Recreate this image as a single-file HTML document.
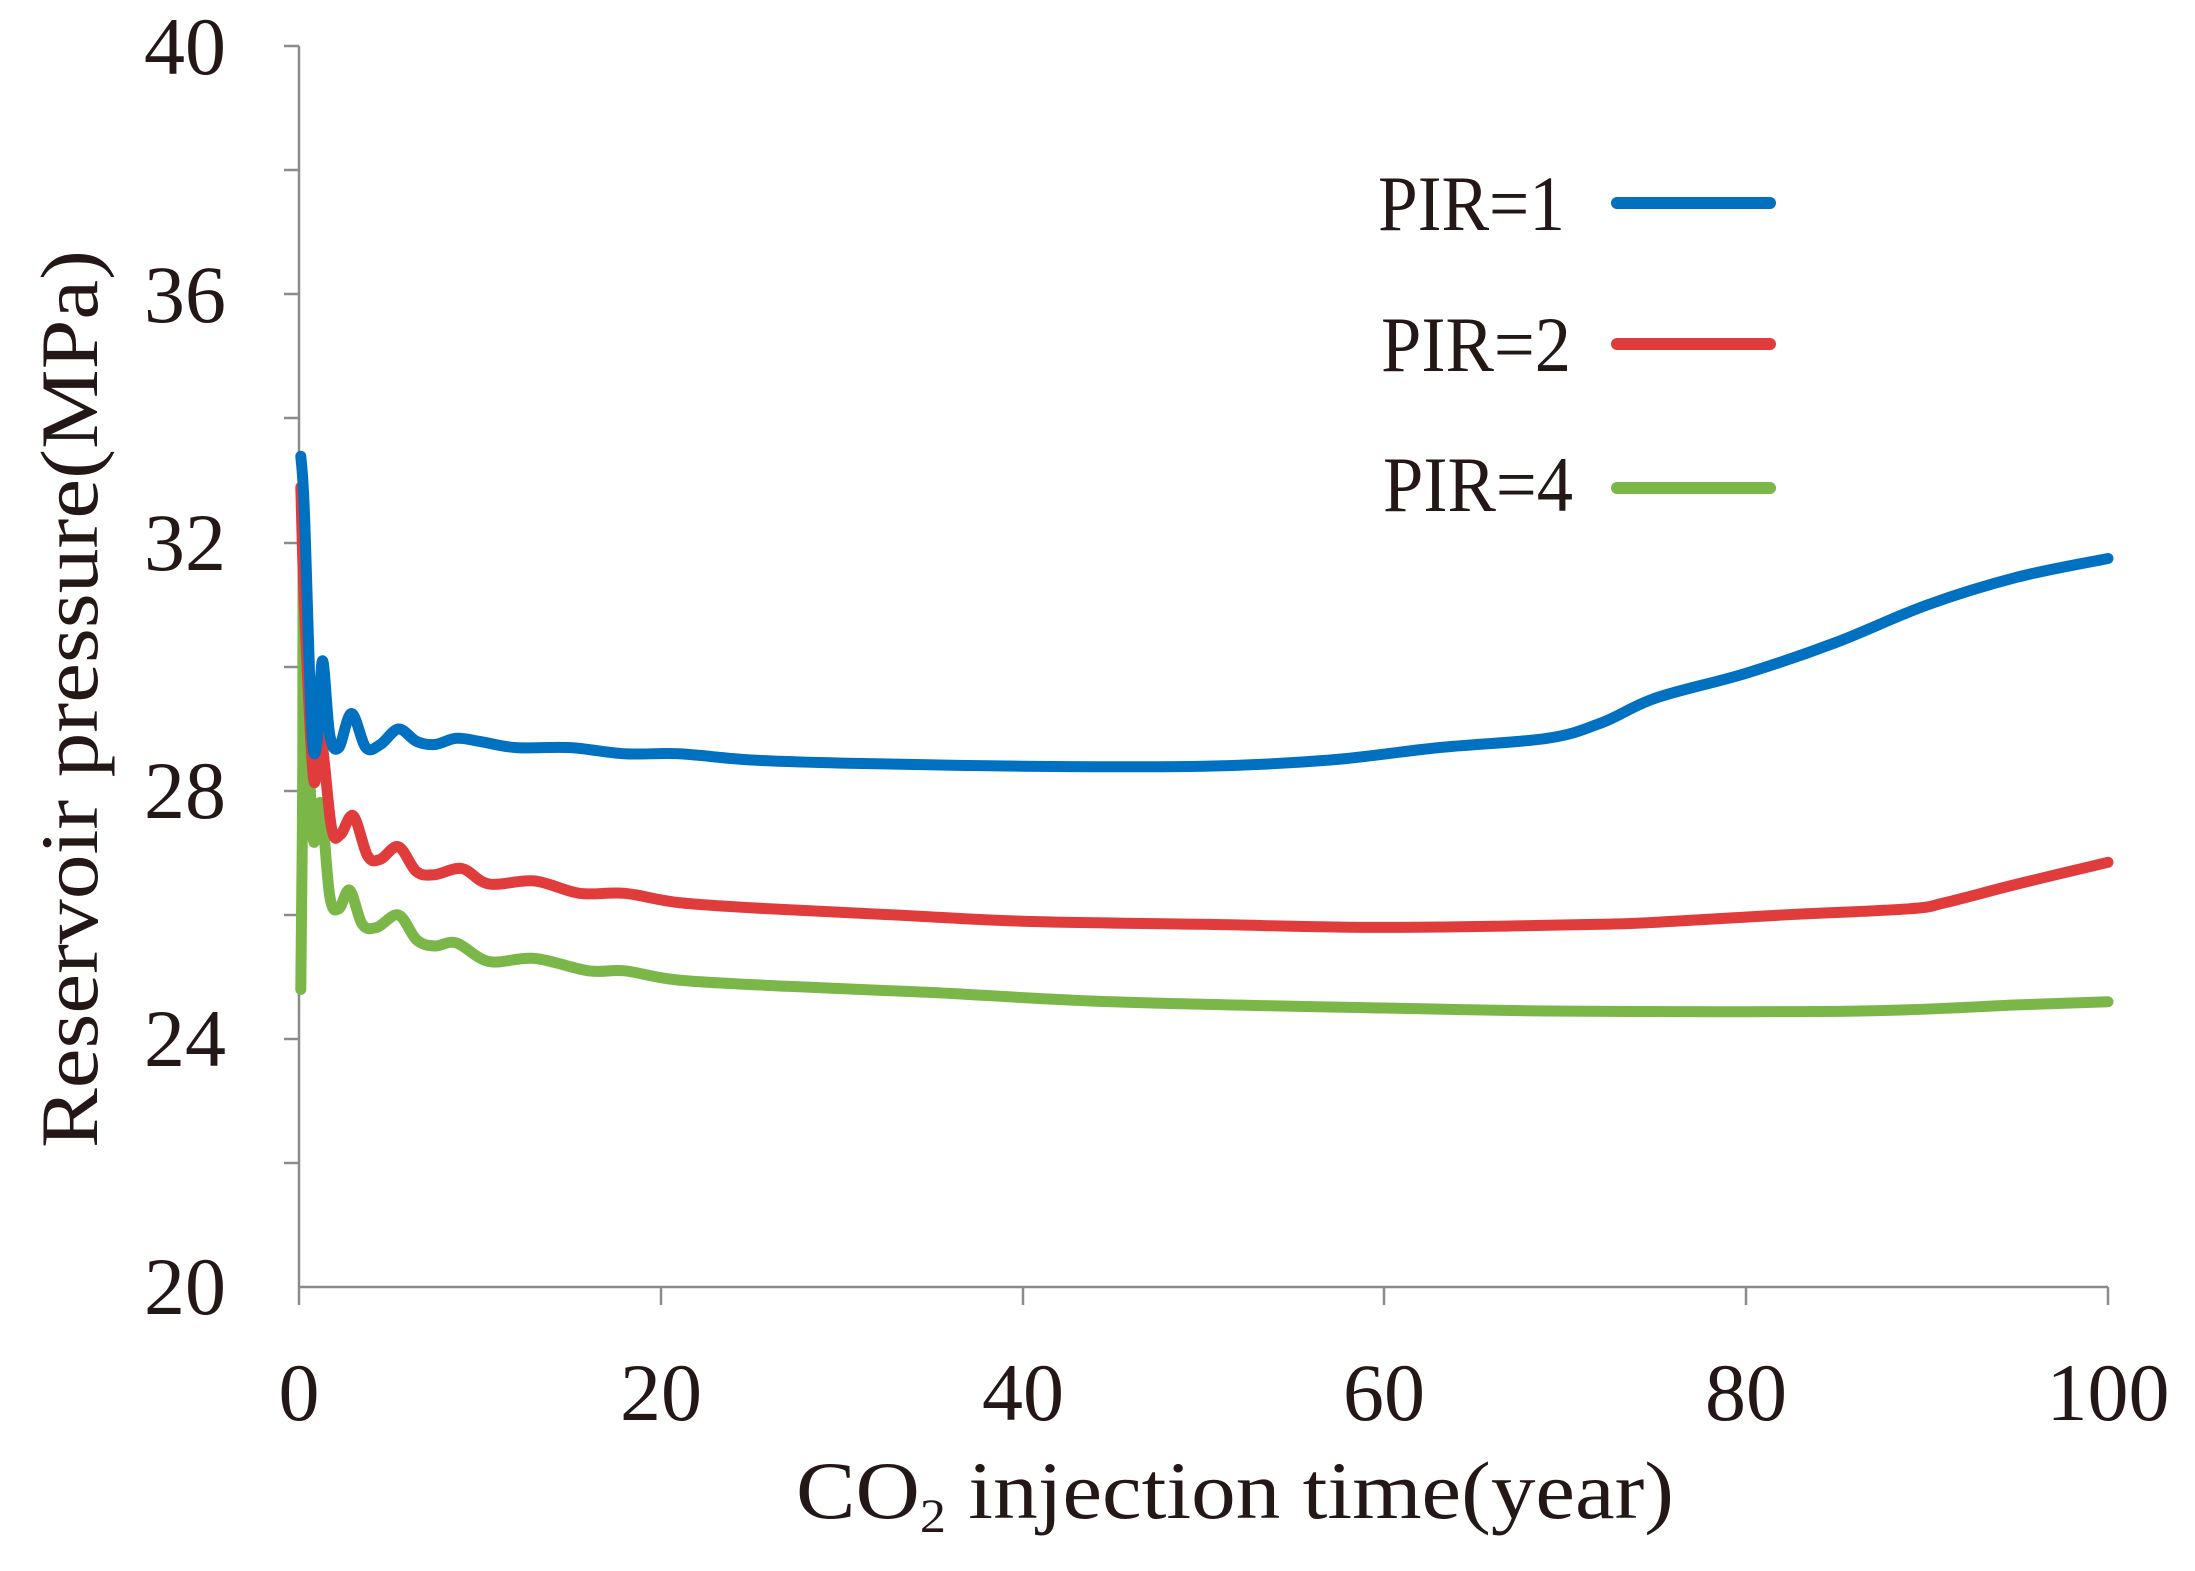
<!DOCTYPE html>
<html><head><meta charset="utf-8"><style>
html,body{margin:0;padding:0;background:#fff;}
svg{display:block;}
text{font-family:"Liberation Serif",serif;fill:#231815;}
</style></head><body>
<svg id="s" width="2195" height="1571" viewBox="0 0 2195 1571" xmlns="http://www.w3.org/2000/svg">
<g stroke="#8c8c8c" stroke-width="2.5" fill="none">
<line x1="299" y1="46" x2="299" y2="1287"/>
<line x1="299" y1="1287" x2="2108" y2="1287"/>
<line x1="284" y1="46" x2="299" y2="46"/>
<line x1="284" y1="170" x2="299" y2="170"/>
<line x1="284" y1="294" x2="299" y2="294"/>
<line x1="284" y1="418" x2="299" y2="418"/>
<line x1="284" y1="543" x2="299" y2="543"/>
<line x1="284" y1="667" x2="299" y2="667"/>
<line x1="284" y1="791" x2="299" y2="791"/>
<line x1="284" y1="915" x2="299" y2="915"/>
<line x1="284" y1="1039" x2="299" y2="1039"/>
<line x1="284" y1="1163" x2="299" y2="1163"/>
<line x1="299" y1="1287" x2="299" y2="1305"/>
<line x1="661" y1="1287" x2="661" y2="1305"/>
<line x1="1023" y1="1287" x2="1023" y2="1305"/>
<line x1="1384" y1="1287" x2="1384" y2="1305"/>
<line x1="1746" y1="1287" x2="1746" y2="1305"/>
<line x1="2108" y1="1287" x2="2108" y2="1305"/>
</g>
<g font-size="82" text-anchor="end">
<text x="226" y="74">40</text>
<text x="226" y="322">36</text>
<text x="226" y="570">32</text>
<text x="226" y="818">28</text>
<text x="226" y="1066">24</text>
<text x="226" y="1314">20</text>
</g>
<g font-size="82" text-anchor="middle">
<text x="299" y="1420">0</text>
<text x="661" y="1420">20</text>
<text x="1023" y="1420">40</text>
<text x="1384" y="1420">60</text>
<text x="1746" y="1420">80</text>
<text x="2108" y="1420">100</text>
</g>
<text transform="translate(97,1148) rotate(-90)" font-size="82" textLength="898" lengthAdjust="spacingAndGlyphs">Reservoir pressure(MPa)</text>
<text x="796" y="1518" font-size="82" textLength="878" lengthAdjust="spacingAndGlyphs">CO<tspan font-size="48" dy="14">2</tspan><tspan dy="-14"> injection time(year)</tspan></text>
<g font-size="78">
<text x="1378" y="230" textLength="187" lengthAdjust="spacingAndGlyphs">PIR=1</text>
<text x="1381" y="371" textLength="190" lengthAdjust="spacingAndGlyphs">PIR=2</text>
<text x="1383" y="511" textLength="190" lengthAdjust="spacingAndGlyphs">PIR=4</text>
</g>
<g stroke-width="12" stroke-linecap="round" fill="none">
<line x1="1617" y1="203" x2="1770" y2="203" stroke="#0070c0"/>
<line x1="1617" y1="344" x2="1770" y2="344" stroke="#e03c3c"/>
<line x1="1617" y1="488" x2="1770" y2="488" stroke="#7ab648"/>
</g>
<g id="c" stroke-width="11" stroke-linejoin="round" stroke-linecap="round" fill="none"></g>
</svg>
<script>
var B=[[0.1,33.4],[0.3,32.5],[0.7,29],[1,28.8],[1.3,30.1],[1.7,28.9],[2.2,28.7],[2.9,29.25],[3.7,28.7],[4.5,28.75],[5.5,29.0],[6.5,28.8],[7.5,28.75],[8.7,28.85],[10,28.8],[12,28.7],[15,28.7],[18,28.6],[21,28.6],[25,28.5],[30,28.45],[40,28.4],[50,28.4],[57,28.5],[63,28.7],[69,28.85],[72,29.1],[75,29.5],[80,29.9],[85,30.4],[90,31.0],[95,31.45],[100,31.75]];
var R=[[0.1,32.9],[0.3,31],[0.8,28.2],[1.2,28.9],[1.8,27.4],[2.3,27.3],[3,27.6],[3.8,26.95],[4.5,26.9],[5.5,27.1],[6.5,26.7],[7.5,26.65],[9,26.75],[10.5,26.5],[13,26.55],[15.5,26.35],[18,26.35],[21,26.2],[26,26.1],[33,26.0],[40,25.9],[50,25.85],[60,25.8],[72,25.85],[76,25.9],[82,26.0],[89,26.1],[91,26.2],[95,26.5],[100,26.85]];
var G=[[0.1,24.8],[0.2,28],[0.25,32],[0.5,29],[0.8,27.2],[1.2,27.8],[1.7,26.3],[2.2,26.1],[2.8,26.4],[3.5,25.85],[4.3,25.8],[5.5,26.0],[6.5,25.6],[7.5,25.5],[8.7,25.55],[10.5,25.25],[13,25.3],[16,25.1],[18,25.1],[21,24.95],[27,24.85],[35,24.75],[45,24.6],[60,24.5],[70,24.45],[86,24.45],[95,24.55],[100,24.6]];
function path(a){var P=a.map(function(p){return [299+p[0]*18.09,1287-(p[1]-20)*62];});
var d="M"+P[0][0].toFixed(1)+","+P[0][1].toFixed(1);
for(var i=0;i<P.length-1;i++){var p0=P[Math.max(i-1,0)],p1=P[i],p2=P[i+1],p3=P[Math.min(i+2,P.length-1)];
var c1=[p1[0]+(p2[0]-p0[0])/6,p1[1]+(p2[1]-p0[1])/6],c2=[p2[0]-(p3[0]-p1[0])/6,p2[1]-(p3[1]-p1[1])/6];
d+=" C"+c1[0].toFixed(1)+","+c1[1].toFixed(1)+" "+c2[0].toFixed(1)+","+c2[1].toFixed(1)+" "+p2[0].toFixed(1)+","+p2[1].toFixed(1);}
return d;}
var g=document.getElementById("c");
[[G,"#7ab648"],[R,"#e03c3c"],[B,"#0070c0"]].forEach(function(s){
var e=document.createElementNS("http://www.w3.org/2000/svg","path");
e.setAttribute("d",path(s[0]));e.setAttribute("stroke",s[1]);g.appendChild(e);});
</script>
</body></html>
